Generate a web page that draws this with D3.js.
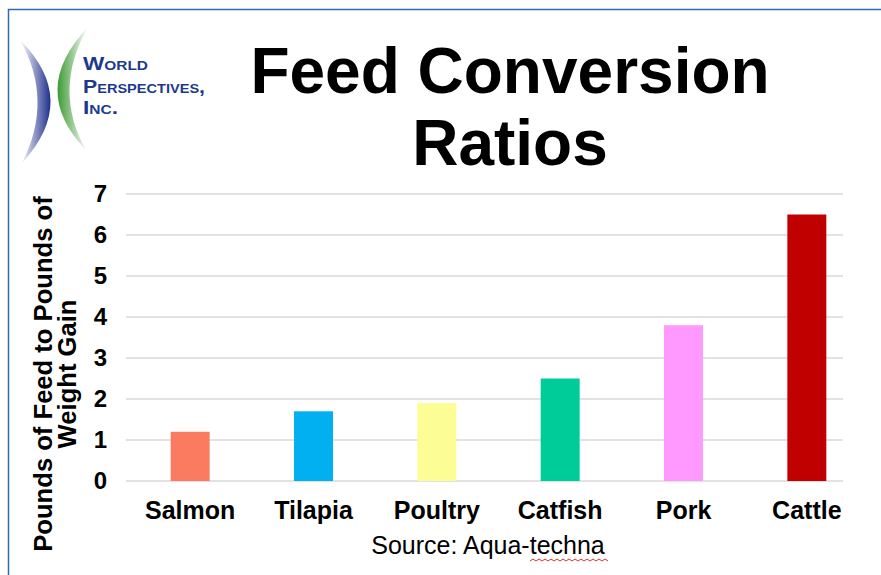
<!DOCTYPE html>
<html>
<head>
<meta charset="utf-8">
<script src="https://cdn.jsdelivr.net/npm/d3@7"></script>
<style>
  body { margin: 0; background: #fff; }
  svg { display: block; }
</style>
</head>
<body>
<div id="chart"></div>
<script>
var categories = ["Salmon", "Tilapia", "Poultry", "Catfish", "Pork", "Cattle"];
var values = [1.2, 1.7, 1.9, 2.5, 3.8, 6.5];
var barColors = ["#fa7b5f", "#00b0f0", "#fdfd96", "#00cc99", "#ff99ff", "#c00000"];
var yTicks = [0, 1, 2, 3, 4, 5, 6, 7];

var W = 881, H = 575;
var FONT = "'Liberation Sans', Arial, sans-serif";

var svg = d3.select("#chart").append("svg")
    .attr("width", W)
    .attr("height", H);

// slide frame (top + left edge)
svg.append("path")
    .attr("d", "M8.5," + H + "V9.5H" + W)
    .attr("fill", "none")
    .attr("stroke", "#2e6bb5")
    .attr("stroke-width", 1.5);

// logo
var defs = svg.append("defs");
var gb = defs.append("linearGradient").attr("id", "gBlue")
    .attr("x1", "0%").attr("x2", "100%").attr("y1", "0%").attr("y2", "0%");
gb.append("stop").attr("offset", "0%").attr("stop-color", "#ffffff");
gb.append("stop").attr("offset", "100%").attr("stop-color", "#1f2f8c");
var gg = defs.append("linearGradient").attr("id", "gGreen")
    .attr("x1", "100%").attr("x2", "0%").attr("y1", "0%").attr("y2", "0%");
gg.append("stop").attr("offset", "0%").attr("stop-color", "#ffffff");
gg.append("stop").attr("offset", "100%").attr("stop-color", "#3c9a34");

var logo = svg.append("g");
logo.append("path")
    .attr("d", "M20,40 Q80,100 22,163 Q54,100 20,40Z")
    .attr("fill", "url(#gBlue)");
logo.append("path")
    .attr("d", "M88,27 Q28,90 86,150 Q52,90 88,27Z")
    .attr("fill", "url(#gGreen)");
var logoLines = ["World", "Perspectives,", "Inc."];
var logoWidths = [65, 122, 35];
logo.selectAll("text.logo")
    .data(logoLines)
    .enter().append("text")
    .attr("class", "logo")
    .attr("x", 83)
    .attr("y", function(d, i) { return [70, 93, 114][i]; })
    .attr("textLength", function(d, i) { return logoWidths[i]; })
    .attr("lengthAdjust", "spacingAndGlyphs")
    .attr("fill", "#1c3a8c")
    .style("font-family", FONT)
    .style("font-weight", "bold")
    .style("font-size", "19px")
    .style("font-variant", "small-caps")
    .text(function(d) { return d; });

// title
var title = svg.append("text")
    .attr("text-anchor", "middle")
    .style("font-family", FONT)
    .style("font-weight", "bold")
    .style("font-size", "64px")
    .attr("fill", "#000");
title.append("tspan").attr("x", 510).attr("y", 93).text("Feed Conversion");
title.append("tspan").attr("x", 510).attr("y", 165).text("Ratios");

// scales
var x = d3.scaleBand()
    .domain(categories)
    .range([128.5, 868.5])
    .paddingInner(0.684)
    .paddingOuter(0.342);

var y = d3.scaleLinear()
    .domain([0, 7])
    .range([481, 194]);

// gridlines
svg.append("g")
    .selectAll("line")
    .data(yTicks)
    .enter().append("line")
    .attr("x1", 126)
    .attr("x2", 843)
    .attr("y1", function(d) { return y(d); })
    .attr("y2", function(d) { return y(d); })
    .attr("stroke", "#d9d9d9")
    .attr("stroke-width", 1.5);

// y axis labels
var yAxis = svg.append("g")
    .attr("transform", "translate(107,0)")
    .call(d3.axisLeft(y).tickValues(yTicks).tickSize(0).tickPadding(0).tickFormat(d3.format("d")));
yAxis.select(".domain").remove();
yAxis.selectAll("text")
    .style("font-family", FONT)
    .style("font-weight", "bold")
    .style("font-size", "24px")
    .attr("fill", "#000");

// bars
svg.selectAll(".bar")
    .data(values)
    .enter().append("rect")
    .attr("class", "bar")
    .attr("x", function(d, i) { return x(categories[i]); })
    .attr("width", x.bandwidth())
    .attr("y", function(d) { return y(d); })
    .attr("height", function(d) { return y(0) - y(d); })
    .attr("fill", function(d, i) { return barColors[i]; });

// x axis labels
var xAxis = svg.append("g")
    .attr("transform", "translate(0,501)")
    .call(d3.axisBottom(x).tickSize(0).tickPadding(0));
xAxis.select(".domain").remove();
xAxis.selectAll("text")
    .style("font-family", FONT)
    .style("font-weight", "bold")
    .style("font-size", "25px")
    .attr("fill", "#000");

// y axis title
var yt = svg.append("text")
    .attr("transform", "translate(0,374) rotate(-90)")
    .attr("text-anchor", "middle")
    .style("font-family", FONT)
    .style("font-weight", "bold")
    .style("font-size", "25.6px")
    .attr("fill", "#000");
yt.append("tspan").attr("x", 0).attr("y", 52).text("Pounds of Feed to Pounds of");
yt.append("tspan").attr("x", 0).attr("y", 76).text("Weight Gain");

// source
svg.append("text")
    .attr("x", 488)
    .attr("y", 554)
    .attr("text-anchor", "middle")
    .style("font-family", FONT)
    .style("font-size", "25px")
    .attr("fill", "#000")
    .text("Source: Aqua-techna");

// spell-check squiggle under "techna"
var sq = d3.range(530, 609, 3).map(function(px, i) { return [px, i % 2 ? 559 : 561]; });
svg.append("path")
    .attr("d", d3.line()(sq))
    .attr("fill", "none")
    .attr("stroke", "#e03030")
    .attr("stroke-width", 1);
</script>
</body>
</html>
